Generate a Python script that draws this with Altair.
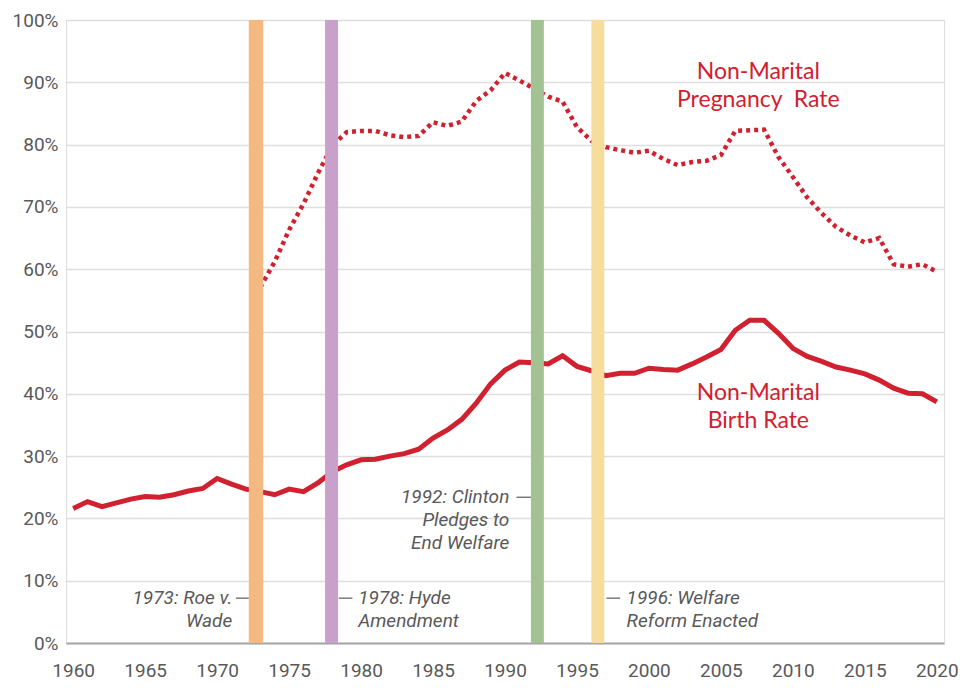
import altair as alt
import pandas as pd

# ---------------- data ----------------
years = list(range(1960, 2021))
birth_rate = [
    21.6, 22.7, 21.9, 22.5, 23.1, 23.5, 23.4, 23.8, 24.4, 24.8,
    26.4, 25.5, 24.7, 24.3, 23.8, 24.7, 24.3, 25.7, 27.5, 28.6,
    29.4, 29.5, 30.0, 30.4, 31.1, 32.9, 34.2, 35.9, 38.5, 41.6,
    43.8, 45.1, 45.0, 44.8, 46.1, 44.4, 43.7, 42.9, 43.3, 43.3,
    44.1, 43.9, 43.8, 44.8, 45.9, 47.1, 50.2, 51.8, 51.8, 49.7,
    47.3, 46.0, 45.2, 44.3, 43.8, 43.2, 42.2, 40.9, 40.1, 40.0, 38.7,
]
preg_years = list(range(1973, 2021))
preg_rate = [
    57.1, 61.2, 66.3, 70.5, 75.4, 79.8, 82.0,
    82.2, 82.2, 81.5, 81.2, 81.4, 83.6, 83.0, 83.7, 87.0, 88.7,
    91.5, 90.3, 89.0, 87.7, 86.9, 82.8, 80.6, 79.6, 79.1, 78.7,
    79.0, 77.7, 76.7, 77.2, 77.4, 78.3, 82.2, 82.3, 82.4, 78.0,
    74.8, 71.5, 69.0, 66.8, 65.4, 64.3, 65.0, 60.8, 60.4, 60.8, 59.6,
]

events = ["Roe v. Wade", "Hyde Amendment", "Clinton", "Welfare Reform"]
bar_start = [1972.2, 1977.5, 1991.8, 1996.0]
bar_end = [1973.2, 1978.4, 1992.7, 1996.9]
bar_colors = ["#F4B982", "#C99FCB", "#A3C291", "#F7DD9B"]

# annotation texts (first-line positions)
left_texts = ["1978: Hyde\nAmendment", "1996: Welfare\nReform Enacted"]
left_x = [1979.8, 1998.45]
left_y = [7.2, 7.2]
right_texts = ["1973: Roe v.\nWade", "1992: Clinton\nPledges to\nEnd Welfare"]
right_x = [1971.05, 1990.3]
right_y = [7.2, 23.4]

# leader dashes
dash_x0 = [1971.3, 1978.45, 1990.8, 1997.05]
dash_x1 = [1972.2, 1979.4, 1991.8, 1998.0]
dash_y = [7.2, 7.2, 23.4, 7.2]

series_labels = ["Non-Marital\nPregnancy\u00a0 Rate", "Non-Marital\nBirth Rate"]
series_x = [2007.6, 2007.6]
series_y = [91.6, 40.1]

RED = "#D1202F"
GRAY = "#595959"
FONT = "Roboto"

# ---------------- frames ----------------
df_birth = pd.DataFrame({"year": years, "rate": birth_rate})
df_preg = pd.DataFrame({"year": preg_years, "rate": preg_rate})
df_bars = pd.DataFrame({"event": events, "x0": bar_start, "x1": bar_end,
                        "lo": [0] * 4, "hi": [100] * 4})
df_left = pd.DataFrame({"t": left_texts, "x": left_x, "y": left_y})
df_right = pd.DataFrame({"t": right_texts, "x": right_x, "y": right_y})
df_dash = pd.DataFrame({"x0": dash_x0, "x1": dash_x1, "y": dash_y})
df_series = pd.DataFrame({"t": series_labels, "x": series_x, "y": series_y})

xscale = alt.Scale(domain=[1959.5, 2020.5], nice=False, zero=False)
yscale = alt.Scale(domain=[0, 100], nice=False)

xaxis = alt.Axis(values=list(range(1960, 2021, 5)), format="d", title=None,
                 grid=False, ticks=False, domainColor="#A6A6A6", domainWidth=2,
                 labelFont=FONT, labelFontSize=19, labelColor=GRAY,
                 labelPadding=18)
yaxis = alt.Axis(values=list(range(0, 101, 10)), title=None, ticks=False,
                 domain=False, labelExpr="datum.value + '%'",
                 labelFont=FONT, labelFontSize=19, labelColor=GRAY,
                 labelPadding=8, gridColor="#DEDEDE", gridWidth=1.5)

birth = alt.Chart(df_birth).mark_line(color=RED, strokeWidth=5).encode(
    x=alt.X("year:Q", scale=xscale, axis=xaxis),
    y=alt.Y("rate:Q", scale=yscale, axis=yaxis),
)

preg = alt.Chart(df_preg).mark_line(color=RED, strokeWidth=4.5,
                                    strokeDash=[4, 4]).encode(
    x="year:Q", y="rate:Q"
)

bars = alt.Chart(df_bars).mark_rect().encode(
    x="x0:Q", x2="x1", y="lo:Q", y2="hi",
    color=alt.Color("event:N", scale=alt.Scale(domain=events, range=bar_colors),
                    legend=None),
)

dashes = alt.Chart(df_dash).mark_rule(color=GRAY, strokeWidth=1.2).encode(
    x="x0:Q", x2="x1", y="y:Q"
)

ann_left = alt.Chart(df_left).mark_text(
    align="left", baseline="middle", lineBreak="\n", lineHeight=23,
    font=FONT, fontSize=19, fontStyle="italic", color=GRAY
).encode(x="x:Q", y="y:Q", text="t:N")

ann_right = alt.Chart(df_right).mark_text(
    align="right", baseline="middle", lineBreak="\n", lineHeight=23,
    font=FONT, fontSize=19, fontStyle="italic", color=GRAY
).encode(x="x:Q", y="y:Q", text="t:N")

series = alt.Chart(df_series).mark_text(
    align="center", baseline="middle", lineBreak="\n", lineHeight=28,
    font="Lato", fontSize=23, color=RED
).encode(x="x:Q", y="y:Q", text="t:N")

chart = alt.layer(birth, preg, bars, dashes, ann_left, ann_right, series).properties(
    width=878, height=623,
    autosize=alt.AutoSizeParams(type="none"),
    padding={"left": 58, "top": 12, "right": 17, "bottom": 37},
).configure_view(stroke=None).configure(background="white")

chart.save("out.html", embed_options={"renderer": "svg", "actions": False})
